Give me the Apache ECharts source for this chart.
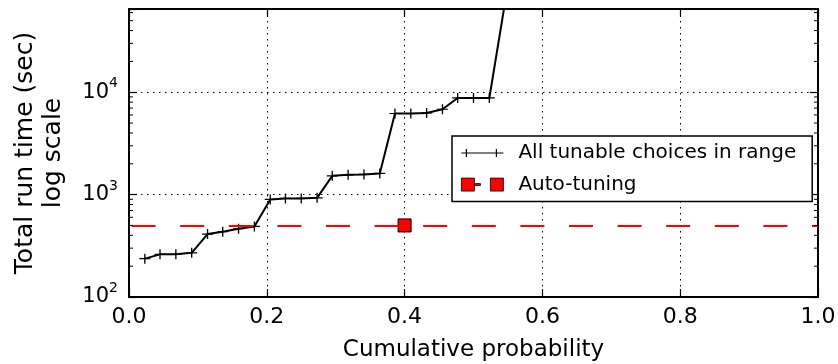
<!DOCTYPE html>
<html>
<head>
<meta charset="utf-8">
<script src="https://cdn.jsdelivr.net/npm/echarts@6/dist/echarts.min.js"></script>
<style>
  html, body { margin: 0; padding: 0; background: #fff; }
  #chart { width: 838px; height: 364px; }
</style>
</head>
<body>
<div id="chart"></div>
<script>
// cumulative probability of each tunable choice, and its total run time (sec)
var probX = [0.023, 0.045, 0.068, 0.091, 0.114, 0.136, 0.159, 0.182, 0.205, 0.227, 0.25, 0.273,
             0.295, 0.318, 0.341, 0.364, 0.386, 0.409, 0.432, 0.455, 0.477, 0.5, 0.523, 0.545];
var runTime = [237, 261, 261, 270, 412, 434, 464, 489, 898, 918, 918, 930,
               1525, 1560, 1574, 1610, 6200, 6200, 6280, 6820, 8790, 8790, 8790, 70000];

// auto-tuning result
var autoX = [0.4];
var autoY = [500];

var minorTicks = [200, 300, 400, 500, 600, 700, 800, 900,
                  2000, 3000, 4000, 5000, 6000, 7000, 8000, 9000,
                  20000, 30000, 40000, 50000, 60000];

var FONT = 'DejaVu Sans';
var dotted = { color: '#000', width: 1, type: [1.5, 4.5] };
var frame = { show: true, onZero: false, lineStyle: { color: '#000', width: 2 } };
var tickIn = { show: true, inside: true, length: 8, lineStyle: { color: '#000', width: 1.2 } };

function isDecade(v) {
    var l = Math.log10(v);
    return Math.abs(l - Math.round(l)) < 1e-6;
}

var option = {
    animation: false,
    backgroundColor: '#fff',
    grid: { left: 129, right: 20, top: 9, bottom: 67, outerBoundsMode: 'none', containLabel: false },
    legend: {
        orient: 'vertical',
        left: 452,
        top: 136,
        padding: [7, 16, 7, 9],
        itemGap: 11.6,
        itemWidth: 42,
        itemHeight: 13,
        borderColor: '#000',
        borderWidth: 1.5,
        borderRadius: 0,
        backgroundColor: '#fff',
        textStyle: { fontFamily: FONT, fontSize: 20, color: '#000', padding: [0, 0, 0, 10] },
        data: [
            {
                name: 'All tunable choices in range',
                icon: 'path://M0,5.9H42V7.1H0Z M4.4,2.5H5.6V10.5H4.4Z M34.4,2.5H35.6V10.5H34.4Z',
                itemStyle: { color: '#000', borderWidth: 0 }
            },
            {
                name: 'Auto-tuning',
                icon: 'path://M0,0H13V13H0Z M13,5.5H19V7.5H13Z M29,0H42V13H29Z',
                itemStyle: { color: '#ff0000', borderColor: '#000', borderWidth: 0.8 }
            }
        ]
    },
    xAxis: [
        {
            type: 'value', position: 'bottom', min: 0, max: 1, interval: 0.2,
            axisLine: frame, axisTick: tickIn,
            splitLine: { show: true, lineStyle: dotted },
            axisLabel: {
                margin: 9, fontFamily: FONT, fontSize: 22, color: '#000',
                formatter: function (v) { return v.toFixed(1); }
            },
            name: 'Cumulative probability', nameLocation: 'middle', nameGap: 42,
            nameTextStyle: { fontFamily: FONT, fontSize: 23, color: '#000' }
        },
        {
            type: 'value', position: 'top', min: 0, max: 1, interval: 0.2,
            axisLine: frame, axisTick: tickIn,
            splitLine: { show: false }, axisLabel: { show: false }
        }
    ],
    yAxis: [
        {
            type: 'log', logBase: 10, min: 100, max: 65000, splitNumber: 3, position: 'left',
            axisLine: frame, axisTick: tickIn,
            splitLine: { show: true, lineStyle: dotted },
            axisLabel: {
                margin: 11, color: '#000',
                formatter: function (v) {
                    if (!isDecade(v)) return '';
                    return '{b|10}{s|' + Math.round(Math.log10(v)) + '}';
                },
                rich: {
                    b: { fontFamily: FONT, fontSize: 21, lineHeight: 31, color: '#000' },
                    s: { fontFamily: FONT, fontSize: 14, lineHeight: 14, color: '#000', verticalAlign: 'top' }
                }
            },
            name: 'Total run time (sec)\nlog scale', nameLocation: 'middle', nameGap: 62,
            nameTextStyle: { fontFamily: FONT, fontSize: 25, lineHeight: 28, color: '#000' }
        },
        {
            type: 'log', logBase: 10, min: 100, max: 65000, splitNumber: 3, position: 'right',
            axisLine: frame, axisTick: tickIn,
            splitLine: { show: false }, axisLabel: { show: false }
        }
    ],
    series: [
        {
            name: 'All tunable choices in range',
            type: 'line',
            data: probX.map(function (x, i) { return [x, runTime[i]]; }),
            symbol: 'path://M0,4.4H10V5.6H0Z M4.4,0H5.6V10H4.4Z',
            symbolSize: [11, 10],
            showAllSymbol: true,
            itemStyle: { color: '#000' },
            lineStyle: { color: '#000', width: 2 },
            clip: true,
            z: 3
        },
        {
            name: 'Auto-tuning',
            type: 'line',
            data: autoX.map(function (x, i) { return [x, autoY[i]]; }),
            symbol: 'rect',
            symbolSize: 13,
            itemStyle: { color: '#ff0000', borderColor: '#000', borderWidth: 1 },
            lineStyle: { color: '#ff0000', width: 2, type: [24, 24.6] },
            markLine: {
                silent: true,
                symbol: 'none',
                label: { show: false },
                lineStyle: { color: '#ff0000', width: 2, type: [24, 24.6], dashOffset: -2.6 },
                data: [{ yAxis: autoY[0] }]
            },
            z: 4
        },
        {
            // minor ticks of the log axis, inside on both sides
            type: 'custom',
            silent: true,
            data: minorTicks.map(function (v) { return [0, v]; }),
            renderItem: function (params, api) {
                var y = api.coord([0, api.value(1)])[1];
                var cs = params.coordSys;
                var st = { stroke: '#000', lineWidth: 1 };
                return {
                    type: 'group',
                    children: [
                        { type: 'line', shape: { x1: cs.x, y1: y, x2: cs.x + 4, y2: y }, style: st },
                        { type: 'line', shape: { x1: cs.x + cs.width, y1: y, x2: cs.x + cs.width - 4, y2: y }, style: st }
                    ]
                };
            },
            z: 5
        }
    ]
};

var chart = echarts.init(document.getElementById('chart'), null, { renderer: 'canvas' });
chart.setOption(option);

window.addEventListener('resize', function () {
    chart.resize();
});
</script>
</body>
</html>
